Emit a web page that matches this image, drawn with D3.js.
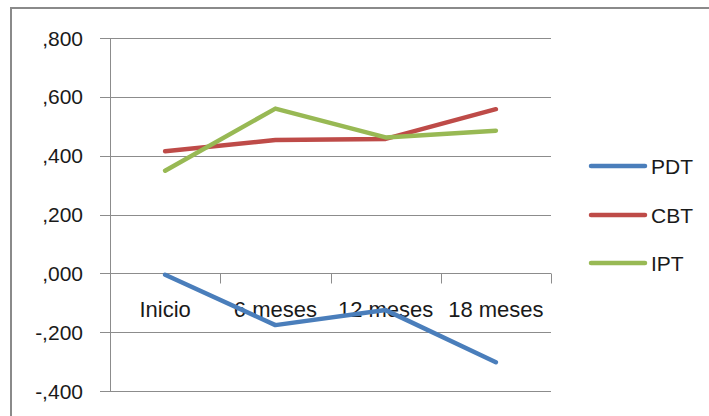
<!DOCTYPE html>
<html><head><meta charset="utf-8">
<script src="https://d3js.org/d3.v7.min.js"></script>
<style>body{margin:0;background:#fff}svg{display:block}text{font-family:"Liberation Sans",Arial,sans-serif;fill:#1a1a1a}</style>
</head><body>
<script>
const categories = ["Inicio", "6 meses", "12 meses", "18 meses"];
const seriesNames = ["PDT", "CBT", "IPT"];
const seriesColors = ["#4A7EBB", "#BE4B48", "#98B954"];
const pdtValues = [-0.005, -0.176, -0.125, -0.302];
const cbtValues = [0.415, 0.453, 0.457, 0.558];
const iptValues = [0.349, 0.560, 0.462, 0.485];
const yTicks = [-0.4, -0.2, 0, 0.2, 0.4, 0.6, 0.8];
const yTickLabels = ["-,400", "-,200", ",000", ",200", ",400", ",600", ",800"];

(function () {
const series = [pdtValues, cbtValues, iptValues].map((v, i) => ({name: seriesNames[i], color: seriesColors[i], values: v}));

const W = 709, H = 416;
const svg = d3.select("body").append("svg").attr("width", W).attr("height", H);

svg.append("rect").attr("x", 11).attr("y", 8).attr("width", W + 10).attr("height", H + 10)
  .attr("fill", "none").attr("stroke", "#8a8a8a").attr("stroke-width", 2);

const pLeft = 110, pRight = 551, pTop = 38, pBottom = 391;
const x = d3.scaleBand().domain(categories).range([pLeft, pRight]);
const y = d3.scaleLinear().domain([-0.4, 0.8]).range([pBottom, pTop]);

const g = svg.append("g");
g.selectAll("line.grid").data(yTicks).join("line")
  .attr("x1", pLeft - 10).attr("x2", pRight)
  .attr("y1", d => Math.round(y(d)) + 0.5).attr("y2", d => Math.round(y(d)) + 0.5)
  .attr("stroke", "#8c8c8c").attr("stroke-width", 1);
g.append("line").attr("x1", pLeft + 0.5).attr("x2", pLeft + 0.5).attr("y1", pTop).attr("y2", pBottom + 0.5)
  .attr("stroke", "#8c8c8c");
g.selectAll("text.yl").data(yTicks).join("text")
  .attr("x", 83).attr("y", d => y(d)).attr("dy", "0.36em").attr("text-anchor", "end")
  .style("font-size", "21px").text((d, i) => yTickLabels[i]);

const y0 = Math.round(y(0)) + 0.5;
const catTicks = categories.map(c => x(c)).concat([pRight]);
g.selectAll("line.ct").data(catTicks.slice(1)).join("line")
  .attr("x1", d => Math.round(d) + 0.5).attr("x2", d => Math.round(d) + 0.5)
  .attr("y1", y0).attr("y2", y0 + 10).attr("stroke", "#8c8c8c");
g.selectAll("text.cl").data(categories).join("text")
  .attr("x", d => x(d) + x.bandwidth() / 2).attr("y", y0 + 43.5).attr("text-anchor", "middle")
  .style("font-size", "22px").text(d => d);

const line = d3.line().x((d, i) => x(categories[i]) + x.bandwidth() / 2).y(d => y(d));
g.selectAll("path.s").data(series).join("path")
  .attr("d", d => line(d.values)).attr("fill", "none")
  .attr("stroke", d => d.color).attr("stroke-width", 4.5)
  .attr("stroke-linejoin", "round").attr("stroke-linecap", "round");

const lg = svg.append("g");
const ly = [166, 215, 263];
series.forEach((s, i) => {
  lg.append("line").attr("x1", 591).attr("x2", 645).attr("y1", ly[i]).attr("y2", ly[i])
    .attr("stroke", s.color).attr("stroke-width", 4.5).attr("stroke-linecap", "round");
  lg.append("text").attr("x", 651).attr("y", ly[i]).attr("dy", "0.36em")
    .style("font-size", "21px").text(s.name);
});
})();
</script>
</body></html>
